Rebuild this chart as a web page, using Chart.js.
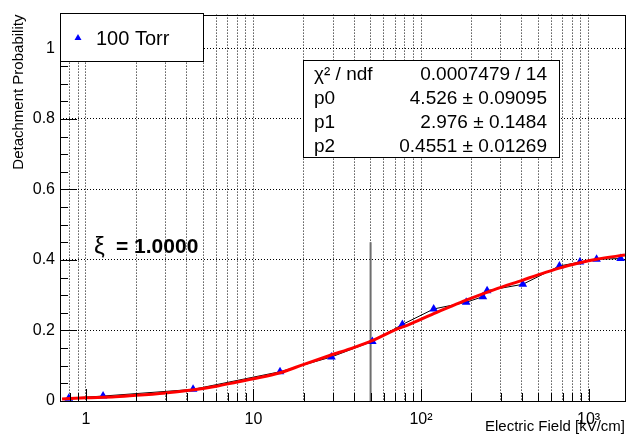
<!DOCTYPE html>
<html>
<head>
    <meta charset="UTF-8">
    <title>Detachment Probability vs Electric Field</title>
    <script src="https://cdn.jsdelivr.net/npm/chart.js"></script>
    <style>
        body {
            margin: 0;
            background-color: white;
        }
        #wrap {
            width: 630px;
            height: 436px;
        }
    </style>
</head>
<body>
    <div id="wrap"><canvas id="chart" width="630" height="436"></canvas></div>

    <script>
        // measured points (100 Torr)
        const fieldValues = [0.79, 1.265, 4.36, 14.4, 29.2, 51.2, 77.4, 119, 186, 234, 248, 405, 670, 888, 1116, 1553];
        const probValues  = [0.008, 0.014, 0.033, 0.083, 0.125, 0.169, 0.217, 0.261, 0.280, 0.296, 0.313, 0.331, 0.383, 0.394, 0.402, 0.404];

        // fit curve
        const fitX = [0.72, 1, 1.5, 2, 3, 4.3, 6, 8, 10, 14.4, 20, 28.5, 40, 51, 70, 84, 119, 150, 186, 274, 405, 494, 669, 886, 1116, 1650];
        const fitY = [0.006, 0.009, 0.012, 0.016, 0.023, 0.031, 0.042, 0.054, 0.063, 0.080, 0.104, 0.129, 0.152, 0.171, 0.202, 0.216, 0.248, 0.268, 0.286, 0.316, 0.343, 0.357, 0.377, 0.392, 0.402, 0.414];

        // vertical marker line
        const markerX = [50, 50];
        const markerY = [0, 0.45];

        const xGridValues = [0.8, 0.9, 1, 2, 3, 4, 5, 6, 7, 8, 9, 10, 20, 30, 40, 50, 60, 70, 80, 90,
                             100, 200, 300, 400, 500, 600, 700, 800, 900, 1000];
        const xTickLabels = { 1: '1', 10: '10', 100: '10²', 1000: '10³' };
        const yTickValues = [0, 0.2, 0.4, 0.6, 0.8, 1];
        const yMinorTicks = [0, 0.05, 0.1, 0.15, 0.2, 0.25, 0.3, 0.35, 0.4, 0.45, 0.5, 0.55,
                             0.6, 0.65, 0.7, 0.75, 0.8, 0.85, 0.9, 0.95, 1, 1.05];

        const seriesLabel = '100 Torr';
        const statsRows = [
            ['χ² / ndf', '0.0007479 / 14'],
            ['p0', '4.526 ± 0.09095'],
            ['p1', '2.976 ± 0.1484'],
            ['p2', '0.4551 ± 0.01269']
        ];
        const xiValue = '1.0000';

        const FONT = '"Liberation Sans", Arial, sans-serif';
        Chart.defaults.font.family = FONT;
        Chart.defaults.color = '#000';

        const toPoints = (xs, ys) => xs.map((x, i) => ({ x: x, y: ys[i] }));

        // ROOT-like frame, inside ticks, legend, stats box and xi label
        const decorations = {
            id: 'decorations',
            afterDatasetsDraw(chart) {
                const ctx = chart.ctx;
                const area = chart.chartArea;
                const xs = chart.scales.x;
                const ys = chart.scales.y;
                ctx.save();
                ctx.strokeStyle = '#000';
                ctx.lineWidth = 1;
                ctx.setLineDash([]);

                // x ticks
                ctx.beginPath();
                xGridValues.forEach(v => {
                    const px = Math.round(xs.getPixelForValue(v)) + 0.5;
                    const len = xTickLabels[v] ? 12 : 8;
                    ctx.moveTo(px, area.bottom);
                    ctx.lineTo(px, area.bottom - len);
                });
                // y ticks
                yMinorTicks.forEach(v => {
                    const py = Math.round(ys.getPixelForValue(v)) + 0.5;
                    const major = Math.abs(v * 5 - Math.round(v * 5)) < 1e-6;
                    ctx.moveTo(area.left, py);
                    ctx.lineTo(area.left + (major ? 17 : 8), py);
                });
                ctx.stroke();

                // frame
                ctx.strokeRect(Math.round(area.left) + 0.5, Math.round(area.top) + 0.5,
                               area.right - area.left, Math.round(area.bottom - area.top));

                // legend box
                ctx.fillStyle = '#fff';
                ctx.fillRect(60.5, 13.5, 143, 48);
                ctx.strokeRect(60.5, 13.5, 143, 48);
                ctx.fillStyle = '#0000ff';
                ctx.beginPath();
                ctx.moveTo(78, 34);
                ctx.lineTo(81.5, 40);
                ctx.lineTo(74.5, 40);
                ctx.closePath();
                ctx.fill();
                ctx.fillStyle = '#000';
                ctx.font = '20px ' + FONT;
                ctx.textBaseline = 'alphabetic';
                ctx.textAlign = 'left';
                ctx.fillText(seriesLabel, 96, 45);

                // stats box
                ctx.fillStyle = '#fff';
                ctx.fillRect(303.5, 60.5, 256, 97);
                ctx.strokeRect(303.5, 60.5, 256, 97);
                ctx.fillStyle = '#000';
                ctx.font = '19px ' + FONT;
                statsRows.forEach((row, i) => {
                    const base = 80 + i * 24;
                    ctx.textAlign = 'left';
                    ctx.fillText(row[0], 314, base);
                    ctx.textAlign = 'right';
                    ctx.fillText(row[1], 547, base);
                });

                // xi label
                ctx.textAlign = 'left';
                ctx.font = '24px ' + FONT;
                ctx.fillText('ξ', 94, 254);
                ctx.font = 'bold 21px ' + FONT;
                ctx.fillText('= ' + xiValue, 116, 253);

                ctx.restore();
            }
        };

        const ctx = document.getElementById('chart').getContext('2d');
        const chart = new Chart(ctx, {
            type: 'scatter',
            data: {
                datasets: [
                    {
                        label: 'fit',
                        data: toPoints(fitX, fitY),
                        showLine: true,
                        borderColor: '#ff0000',
                        borderWidth: 3,
                        pointRadius: 0,
                        cubicInterpolationMode: 'monotone'
                    },
                    {
                        label: seriesLabel,
                        data: toPoints(fieldValues, probValues),
                        showLine: true,
                        borderColor: '#000',
                        borderWidth: 1,
                        pointStyle: 'triangle',
                        pointRadius: 5,
                        pointBorderWidth: 0,
                        pointBackgroundColor: '#0000ff',
                        pointBorderColor: '#0000ff'
                    },
                    {
                        label: 'marker',
                        data: toPoints(markerX, markerY),
                        showLine: true,
                        borderColor: '#6e6e6e',
                        borderWidth: 2,
                        pointRadius: 0
                    }
                ]
            },
            options: {
                responsive: false,
                animation: false,
                layout: { padding: { top: 13, right: 0, left: 0, bottom: 0 } },
                plugins: {
                    legend: { display: false },
                    tooltip: { enabled: false }
                },
                scales: {
                    x: {
                        type: 'logarithmic',
                        min: 0.72,
                        max: 1650,
                        afterBuildTicks: (scale) => {
                            scale.ticks = xGridValues.map(v => ({ value: v }));
                        },
                        afterFit: (scale) => { scale.height = 35; },
                        grid: {
                            color: '#000',
                            lineWidth: 1,
                            drawTicks: false
                        },
                        border: { display: false, dash: [1, 2] },
                        ticks: {
                            autoSkip: false,
                            maxRotation: 0,
                            minRotation: 0,
                            padding: 9,
                            font: { size: 16 },
                            callback: (value) => xTickLabels[value] || ''
                        },
                        title: {
                            display: true,
                            text: 'Electric Field [kV/cm]',
                            align: 'end',
                            font: { size: 15 },
                            padding: { top: 0, bottom: 0 }
                        }
                    },
                    y: {
                        type: 'linear',
                        min: 0,
                        max: 1.096,
                        afterBuildTicks: (scale) => {
                            scale.ticks = yTickValues.map(v => ({ value: v }));
                        },
                        afterFit: (scale) => { scale.width = 60; },
                        grid: {
                            color: (c) => c.tick && c.tick.value === 0 ? 'rgba(0,0,0,0)' : '#000',
                            lineWidth: 1,
                            drawTicks: false
                        },
                        border: { display: false, dash: [1, 2] },
                        ticks: {
                            padding: 5,
                            font: { size: 16 },
                            callback: (value) => String(value)
                        },
                        title: {
                            display: true,
                            text: 'Detachment Probability',
                            align: 'end',
                            font: { size: 15 },
                            padding: { top: 10, bottom: 0 }
                        }
                    }
                }
            },
            plugins: [decorations]
        });
    </script>
</body>
</html>
